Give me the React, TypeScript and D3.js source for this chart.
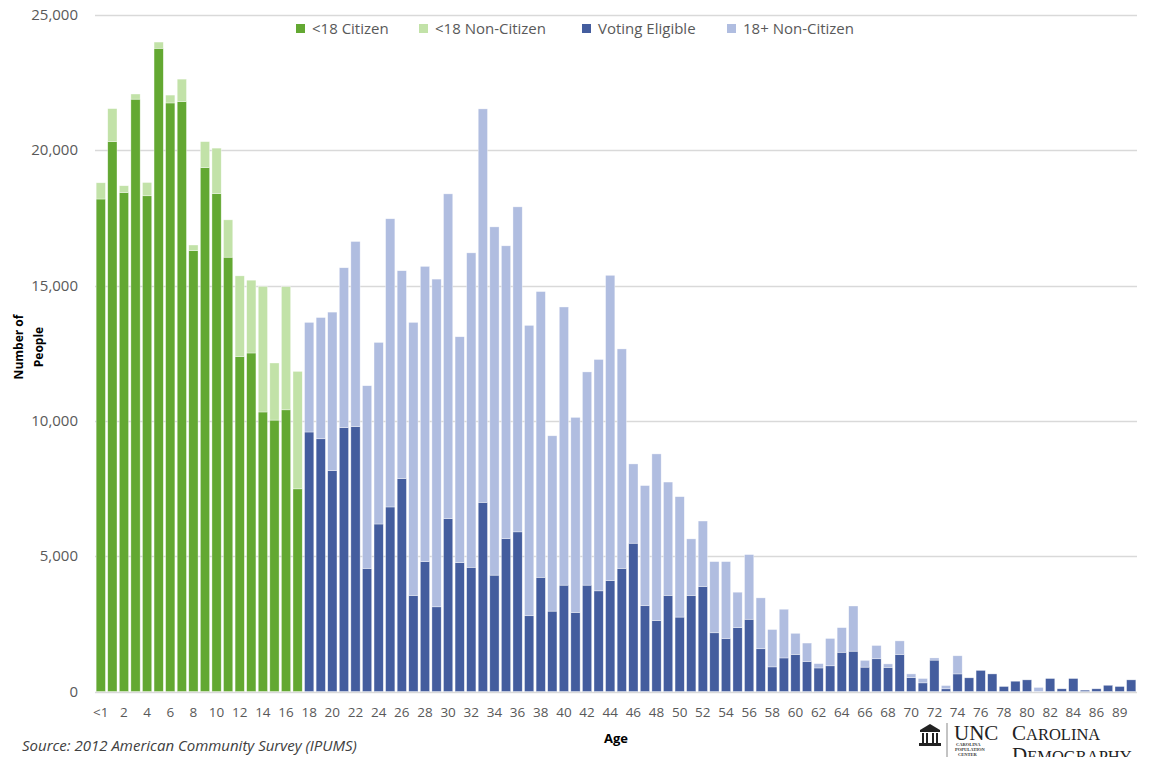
import React from "react";
import * as d3 from "d3";

const ages: string[] = [
  "<1","1","2","3","4","5","6","7","8","9","10","11","12","13","14","15","16","17",
  "18","19","20","21","22","23","24","25","26","27","28","29","30","31","32","33","34","35",
  "36","37","38","39","40","41","42","43","44","45","46","47","48","49","50","51","52","53",
  "54","55","56","57","58","59","60","61","62","63","64","65","66","67","68","69","70","71",
  "72","73","74","75","76","77","78","79","80","81","82","83","84","85","86","87","89","90",
];

// Citizens (under 18: "<18 Citizen", 18+: "Voting Eligible")
const citizen: number[] = [
  18200, 20320, 18440, 21890, 18320, 23770, 21750, 21800, 16290, 19360, 18400, 16050, 12380, 12510, 10330, 10030, 10410, 7490,
  9590, 9340, 8160, 9750, 9790, 4550, 6190, 6820, 7870, 3550, 4800, 3130, 6390, 4760, 4590, 6990, 4300, 5650,
  5900, 2800, 4220, 2970, 3930, 2920, 3930, 3720, 4100, 4550, 5480, 3170, 2620, 3550, 2750, 3550, 3880, 2170,
  1960, 2360, 2670, 1580, 910, 1240, 1370, 1110, 870, 950, 1450, 1490, 900, 1210, 890, 1370, 510, 320,
  1160, 100, 650, 505, 780, 650, 185, 380, 430, 0, 480, 100, 480, 50, 100, 230, 185, 430,
];

// Non-citizens (under 18: "<18 Non-Citizen", 18+: "18+ Non-Citizen")
const nonCitizen: number[] = [
  600, 1220, 250, 190, 490, 230, 290, 830, 210, 960, 1680, 1380, 2980, 2690, 4640, 2110, 4550, 4340,
  4050, 4480, 5860, 5910, 6840, 6750, 6710, 10650, 7680, 10090, 10910, 12110, 12000, 8350, 11620, 14540, 12870, 10820,
  12010, 10730, 10560, 6480, 10280, 7210, 7880, 8550, 11280, 8110, 2930, 4440, 6160, 4190, 4450, 2090, 2420, 2630,
  2840, 1310, 2390, 1880, 1380, 1800, 780, 680, 160, 1010, 910, 1670, 250, 490, 130, 500, 140, 160,
  80, 120, 670, 0, 0, 0, 0, 0, 0, 150, 0, 0, 0, 0, 0, 0, 0, 0,
];

const adultStartIndex = 18;
const yTicks: number[] = [0, 5000, 10000, 15000, 20000, 25000];

const legendItems = [
  { label: "<18 Citizen", color: "#63A832", x: 296 },
  { label: "<18 Non-Citizen", color: "#C2E2A8", x: 419 },
  { label: "Voting Eligible", color: "#445D9E", x: 582 },
  { label: "18+ Non-Citizen", color: "#B0BDE0", x: 727 },
];

const COLORS = {
  kidCit: "#63A832",
  kidNon: "#C2E2A8",
  adultCit: "#445D9E",
  adultNon: "#B0BDE0",
};

export default function App() {
  const W = 1153;
  const H = 757;
  const x = d3
    .scaleBand<number>()
    .domain(d3.range(ages.length))
    .range([95, 1137])
    .paddingInner(0.2)
    .paddingOuter(0.1);
  const y = d3.scaleLinear().domain([0, 25000]).range([691.5, 15]);
  const fmt = d3.format(",");
  const font = "'Open Sans', 'Noto Sans', sans-serif";

  const stackInput = ages.map((a, i) => ({ cit: citizen[i], non: nonCitizen[i] }));
  const series = d3.stack<any>().keys(["cit", "non"])(stackInput);

  return (
    <svg
      width={W}
      height={H}
      style={{ position: "absolute", left: 0, top: 0, background: "#fff" }}
      fontFamily={font}
    >
      {/* gridlines */}
      {yTicks.map((t) => (
        <line
          key={"g" + t}
          x1={95}
          x2={1137}
          y1={Math.round(y(t)) + 0.5}
          y2={Math.round(y(t)) + 0.5}
          stroke="#d9d9d9"
          strokeWidth={1.5}
        />
      ))}
      {/* y labels */}
      {yTicks.map((t) => (
        <text
          key={"yl" + t}
          x={78}
          y={y(t) + 5}
          textAnchor="end"
          fontSize={15}
          fill="#595959"
        >
          {fmt(t)}
        </text>
      ))}
      {/* bars */}
      {series.map((s, si) =>
        s.map((d, i) => {
          const adult = i >= adultStartIndex;
          const color =
            si === 0
              ? adult
                ? COLORS.adultCit
                : COLORS.kidCit
              : adult
              ? COLORS.adultNon
              : COLORS.kidNon;
          const h = y(d[0]) - y(d[1]);
          if (h <= 0) return null;
          return (
            <rect
              key={si + "-" + i}
              x={x(i)}
              y={y(d[1])}
              width={x.bandwidth()}
              height={h}
              fill={color}
              stroke="#ffffff"
              strokeOpacity={0.6}
              strokeWidth={0.6}
            />
          );
        })
      )}
      {/* x tick labels */}
      {ages.map((a, i) =>
        i % 2 === 0 ? (
          <text
            key={"xl" + i}
            x={(x(i) as number) + x.bandwidth() / 2}
            y={717}
            textAnchor="middle"
            fontSize={13.5}
            fill="#595959"
          >
            {a}
          </text>
        ) : null
      )}
      {/* legend */}
      {legendItems.map((it) => (
        <g key={it.label}>
          <rect x={it.x} y={24} width={9} height={9} fill={it.color} />
          <text x={it.x + 16} y={34} fontSize={15} fill="#595959">
            {it.label}
          </text>
        </g>
      ))}
      {/* axis titles */}
      <g transform="translate(23,347) rotate(-90)">
        <text x={0} y={0} textAnchor="middle" fontSize={12} fontWeight="bold" fill="#000">
          Number of
        </text>
        <text x={0} y={20} textAnchor="middle" fontSize={12} fontWeight="bold" fill="#000">
          People
        </text>
      </g>
      <text x={616} y={743} textAnchor="middle" fontSize={13} fontWeight="bold" fill="#000">
        Age
      </text>
      {/* source */}
      <text x={22} y={751} fontSize={15} fontStyle="italic" fill="#404040">
        Source: 2012 American Community Survey (IPUMS)
      </text>
      {/* logo */}
      <g fill="#222">
        <path d="M920,730 L930,724 L940,730 Z" />
        <rect x={920} y={730} width={20} height={2} />
        <rect x={922} y={733} width={2} height={10} />
        <rect x={926} y={733} width={2} height={10} />
        <rect x={932} y={733} width={2} height={10} />
        <rect x={936} y={733} width={2} height={10} />
        <rect x={919} y={743} width={22} height={3} />
      </g>
      <line x1={947} x2={947} y1={723} y2={757} stroke="#888" strokeWidth={1} />
      <text x={954} y={740} fontFamily="'Liberation Serif', 'DejaVu Serif', serif" fontSize={21} fill="#222">
        UNC
      </text>
      <g fontFamily="'Liberation Serif', serif" fontSize={4.5} fill="#333" fontWeight="bold">
        <text x={956} y={746}>CAROLINA</text>
        <text x={955} y={751}>POPULATION</text>
        <text x={958} y={756}>CENTER</text>
      </g>
      <text x={1012} y={740} fontFamily="'Liberation Serif', 'DejaVu Serif', serif" fontSize={21} fill="#222">
        C<tspan fontSize={16.5}>AROLINA</tspan>
      </text>
      <text x={1012} y={762} fontFamily="'Liberation Serif', 'DejaVu Serif', serif" fontSize={21} fill="#222">
        D<tspan fontSize={16.5}>EMOGRAPHY</tspan>
      </text>
    </svg>
  );
}
